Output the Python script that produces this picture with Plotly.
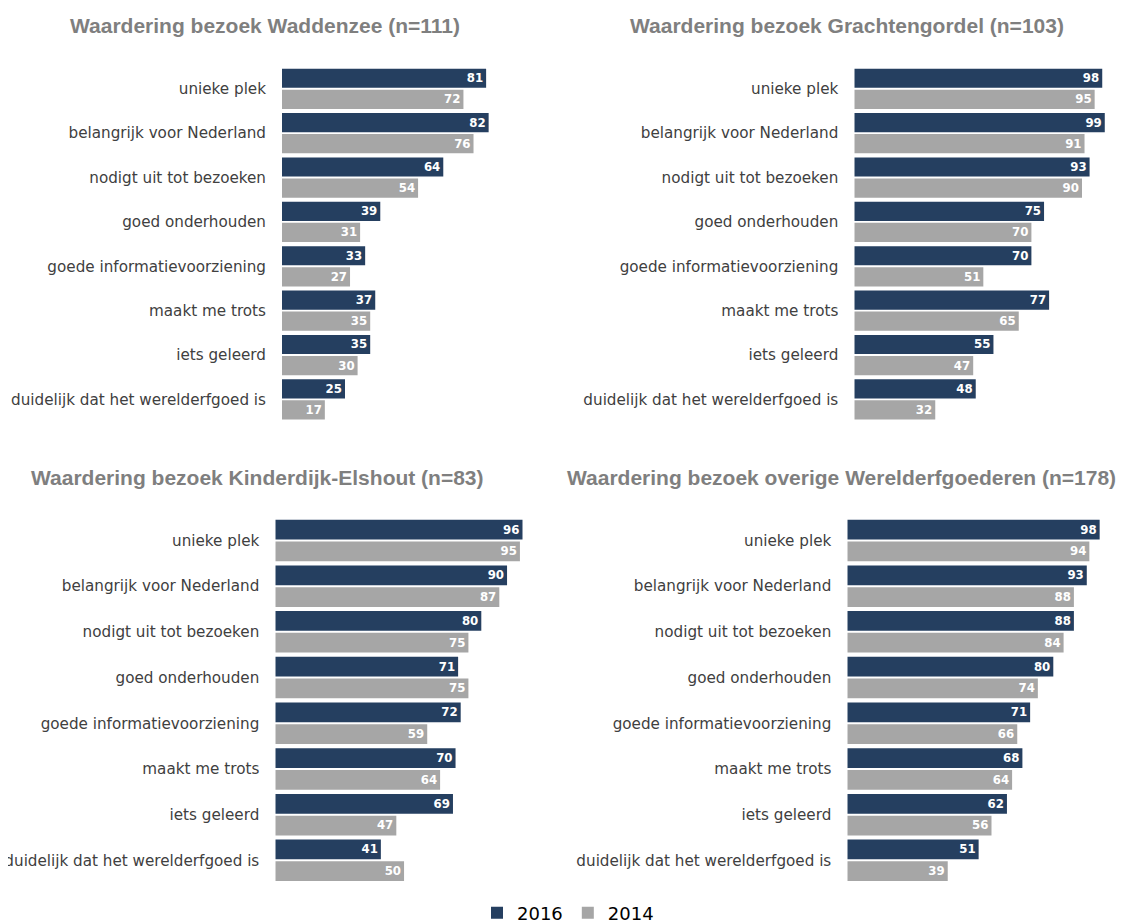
import plotly.graph_objects as go

categories = ["unieke plek", "belangrijk voor Nederland", "nodigt uit tot bezoeken",
              "goed onderhouden", "goede informatievoorziening", "maakt me trots",
              "iets geleerd", "duidelijk dat het werelderfgoed is"]

titles = ["Waardering bezoek Waddenzee (n=111)",
          "Waardering bezoek Grachtengordel (n=103)",
          "Waardering bezoek Kinderdijk-Elshout (n=83)",
          "Waardering bezoek overige Werelderfgoederen (n=178)"]

waddenzee_2016 = [81, 82, 64, 39, 33, 37, 35, 25]
waddenzee_2014 = [72, 76, 54, 31, 27, 35, 30, 17]
gracht_2016 = [98, 99, 93, 75, 70, 77, 55, 48]
gracht_2014 = [95, 91, 90, 70, 51, 65, 47, 32]
kinderdijk_2016 = [96, 90, 80, 71, 72, 70, 69, 41]
kinderdijk_2014 = [95, 87, 75, 75, 59, 64, 47, 50]
overige_2016 = [98, 93, 88, 80, 71, 68, 62, 51]
overige_2014 = [94, 88, 84, 74, 66, 64, 56, 39]

series = [(waddenzee_2016, waddenzee_2014), (gracht_2016, gracht_2014),
          (kinderdijk_2016, kinderdijk_2014), (overige_2016, overige_2014)]

W, H = 1128, 924
OFF = 8  # page body margin
NAVY = "#253F60"
GREY = "#A6A6A6"


def px(sx):
    return (sx - OFF) / W


def py(sy):
    return 1 - (sy - OFF) / H


# screen-pixel domains of each panel (x0, x1, ytop, ybottom)
panels = [(282, 534, 66.6, 421.6), (854.3, 1107.3, 66.6, 421.6),
          (275.3, 532.8, 517.6, 883.2), (847.3, 1104.8, 517.6, 883.2)]
title_pos = [(265, 25), (847, 25), (257, 477), (841, 477)]

fig = go.Figure()
for i, (v16, v14) in enumerate(series):
    ax = "" if i == 0 else str(i + 1)
    for name, vals, col in (("2016", v16, NAVY), ("2014", v14, GREY)):
        fig.add_trace(go.Bar(
            y=categories, x=vals, orientation="h", name=name,
            marker=dict(color=col, line=dict(width=0)),
            text=vals, textposition="inside", insidetextanchor="end",
            textfont=dict(family="DejaVu Sans", size=12, color="white", weight="bold"),
            xaxis="x" + ax, yaxis="y" + ax,
            legendgroup=name, showlegend=(i == 0),
        ))
    x0, x1, yt, yb = panels[i]
    fig.update_layout(**{
        "xaxis" + ax: dict(domain=[px(x0), px(x1)], range=[0, 100], visible=False,
                           anchor="y" + ax, fixedrange=True),
        "yaxis" + ax: dict(domain=[py(yb), py(yt)], autorange="reversed",
                           anchor="x" + ax, showgrid=False, showline=False, zeroline=False,
                           ticks="", automargin=False, ticklabelstandoff=15,
                           tickfont=dict(family="DejaVu Sans", size=15.2, color="#404040")),
    })
    tx, ty = title_pos[i]
    fig.add_annotation(x=px(tx), y=py(ty), xref="paper", yref="paper",
                       text="<b>" + titles[i] + "</b>", showarrow=False,
                       xanchor="center", yanchor="middle",
                       font=dict(family="Liberation Sans", size=21, color="#7F7F7F"))

fig.update_layout(
    width=W, height=H, margin=dict(l=0, r=0, t=0, b=0),
    paper_bgcolor="white", plot_bgcolor="white",
    barmode="group", bargap=0.05, bargroupgap=0.09,
    uniformtext=dict(minsize=8, mode="show"),
    legend=dict(orientation="h", x=px(568), xanchor="center", y=py(913), yanchor="middle",
                font=dict(family="DejaVu Sans", size=18, color="#000000"),
                itemwidth=30, traceorder="normal"),
)

fig.write_html("out.html")
